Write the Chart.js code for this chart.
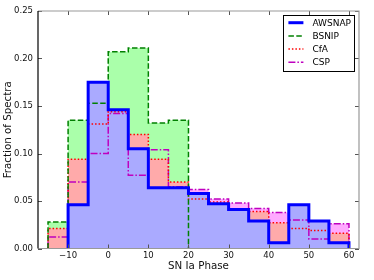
<!DOCTYPE html>
<html>
<head>
<meta charset="utf-8">
<script src="https://cdn.jsdelivr.net/npm/chart.js@4"></script>
<style>
  html, body { margin: 0; padding: 0; background: #fff; }
</style>
</head>
<body>
<canvas id="chart" width="374" height="280"></canvas>
<script>
// ==================== DATA ====================
const binEdges = [-15, -10, -5, 0, 5, 10, 15, 20, 25, 30, 35, 40, 45, 50, 55, 60];
const xTicks = [-10, 0, 10, 20, 30, 40, 50, 60];
const yTicks = [0, 0.05, 0.10, 0.15, 0.20, 0.25];

const awsnap = [0, 0.046, 0.175, 0.146, 0.105, 0.064, 0.064, 0.058, 0.047, 0.041, 0.029, 0.006, 0.046, 0.029, 0.006];
const bsnip  = [0.028, 0.135, 0.153, 0.207, 0.211, 0.132, 0.135, 0, 0, 0, 0, 0, 0, 0, 0];
const cfa    = [0.021, 0.094, 0.131, 0.144, 0.120, 0.094, 0.070, 0.052, 0.049, 0.041, 0.039, 0.027, 0.021, 0.019, 0.016];
const csp    = [0.012, 0.070, 0.100, 0.142, 0.077, 0.104, 0.065, 0.062, 0.052, 0.048, 0.042, 0.038, 0.030, 0.010, 0.026];

const FONT = 'DejaVu Sans';

// histogram outline: up from zero at the first filled bin, down to zero after the last
function stepPoints(vals) {
  const first = vals.findIndex(v => v > 0);
  let last = vals.length - 1;
  while (last > 0 && vals[last] === 0) last--;
  const pts = [{ x: binEdges[first], y: 0 }];
  for (let i = first; i <= last; i++) pts.push({ x: binEdges[i], y: vals[i] });
  pts.push({ x: binEdges[last + 1], y: 0 });
  return pts;
}

const series = [
  { label: 'AWSNAP', vals: awsnap, line: '#0000ff', fill: '#aaaaff', width: 3,   dash: [],             lineOrder: 0, fillOrder: 4 },
  { label: 'BSNIP',  vals: bsnip,  line: '#008000', fill: '#aaffaa', width: 1.5, dash: [5.5, 2.4],     lineOrder: 1, fillOrder: 6 },
  { label: 'CfA',    vals: cfa,    line: '#ff0000', fill: '#ffaaaa', width: 1.5, dash: [1.5, 2],       lineOrder: 2, fillOrder: 5 },
  { label: 'CSP',    vals: csp,    line: '#bf00bf', fill: '#ffaaff', width: 1.5, dash: [7, 2, 1.5, 2], lineOrder: 3, fillOrder: 7 }
];

const datasets = [];
series.forEach(s => {
  datasets.push({
    label: s.label,
    isLegend: true,
    data: stepPoints(s.vals),
    stepped: 'before',
    borderColor: s.line,
    borderWidth: s.width,
    borderDash: s.dash,
    pointRadius: 0,
    fill: false,
    order: s.lineOrder
  });
});
series.forEach(s => {
  datasets.push({
    data: stepPoints(s.vals),
    stepped: 'before',
    borderWidth: 0,
    borderColor: 'rgba(0,0,0,0)',
    backgroundColor: s.fill,
    pointRadius: 0,
    fill: 'origin',
    order: s.fillOrder
  });
});

// ==================== FRAME, INWARD TICKS, LEGEND ====================
const framePlugin = {
  id: 'frame',
  afterDatasetsDraw(chart) {
    const { ctx, chartArea: a, scales } = chart;
    ctx.save();
    ctx.lineWidth = 1;
    ctx.strokeStyle = '#555';
    ctx.beginPath();
    scales.x.ticks.forEach(t => {
      const px = Math.round(scales.x.getPixelForValue(t.value)) + 0.5;
      ctx.moveTo(px, a.bottom); ctx.lineTo(px, a.bottom - 4);
      ctx.moveTo(px, a.top); ctx.lineTo(px, a.top + 4);
    });
    scales.y.ticks.forEach(t => {
      const py = Math.round(scales.y.getPixelForValue(t.value)) + 0.5;
      ctx.moveTo(a.left, py); ctx.lineTo(a.left + 4, py);
      ctx.moveTo(a.right, py); ctx.lineTo(a.right - 4, py);
    });
    ctx.stroke();
    // spines
    ctx.lineWidth = 1.2;
    ctx.strokeStyle = '#999';
    ctx.beginPath();
    ctx.moveTo(a.left, a.top); ctx.lineTo(a.right, a.top); ctx.lineTo(a.right, a.bottom); ctx.lineTo(a.left, a.bottom);
    ctx.stroke();
    ctx.strokeStyle = '#000';
    ctx.beginPath();
    ctx.moveTo(a.left, a.top); ctx.lineTo(a.left, a.bottom);
    ctx.stroke();
    ctx.restore();
  },
  afterDraw(chart) {
    const { ctx, chartArea: a } = chart;
    const items = chart.data.datasets.filter(d => d.isLegend);
    ctx.save();
    ctx.font = '9px "' + FONT + '"';
    const textW = Math.max(...items.map(d => ctx.measureText(d.label).width));
    const w = 29 + textW + 3;
    const h = 56;
    const right = a.right - 5;
    const left = right - w;
    const top = a.top + 4;
    ctx.fillStyle = '#fff';
    ctx.fillRect(left, top, w, h);
    ctx.strokeStyle = '#000';
    ctx.lineWidth = 1;
    ctx.strokeRect(Math.round(left) + 0.5, Math.round(top) + 0.5, Math.round(w), Math.round(h));
    items.forEach((d, i) => {
      const y = top + 7.7 + i * 13.2;
      ctx.strokeStyle = d.borderColor;
      ctx.lineWidth = d.borderWidth;
      ctx.setLineDash(d.borderDash);
      ctx.beginPath();
      ctx.moveTo(left + 5, y); ctx.lineTo(left + 20, y);
      ctx.stroke();
      ctx.setLineDash([]);
      ctx.fillStyle = '#000';
      ctx.textBaseline = 'middle';
      ctx.textAlign = 'left';
      ctx.fillText(d.label, left + 29, y + 0.5);
    });
    ctx.restore();
  }
};

// ==================== CHART ====================
new Chart(document.getElementById('chart').getContext('2d'), {
  type: 'line',
  data: { datasets },
  plugins: [framePlugin],
  options: {
    responsive: false,
    animation: false,
    devicePixelRatio: 1,
    layout: { padding: { top: 11, right: 15, left: 0, bottom: 0 } },
    elements: { line: { tension: 0 } },
    scales: {
      x: {
        type: 'linear',
        min: -17.5,
        max: 62.5,
        afterBuildTicks: s => { s.ticks = xTicks.map(v => ({ value: v })); },
        afterFit: s => { s.height = 31.5; },
        grid: { display: false, drawTicks: false },
        border: { display: false },
        ticks: {
          padding: 2,
          maxRotation: 0,
          color: '#111',
          font: { family: FONT, size: 8.5 },
          callback: v => String(v).replace('-', '\u2212')
        },
        title: {
          display: true,
          text: 'SN Ia Phase',
          color: '#111',
          font: { family: FONT, size: 10.3 },
          padding: { top: 0, bottom: 7 }
        }
      },
      y: {
        min: 0,
        max: 0.25,
        afterBuildTicks: s => { s.ticks = yTicks.map(v => ({ value: v })); },
        afterFit: s => { s.width = 38; },
        grid: { display: false, drawTicks: false },
        border: { display: false },
        ticks: {
          padding: 5,
          color: '#111',
          font: { family: FONT, size: 8.5 },
          callback: v => v.toFixed(2)
        },
        title: {
          display: true,
          text: 'Fraction of Spectra',
          color: '#111',
          font: { family: FONT, size: 10.3 },
          padding: { top: 2, bottom: 0 }
        }
      }
    },
    plugins: {
      legend: { display: false },
      tooltip: { enabled: false }
    }
  }
});
</script>
</body>
</html>
